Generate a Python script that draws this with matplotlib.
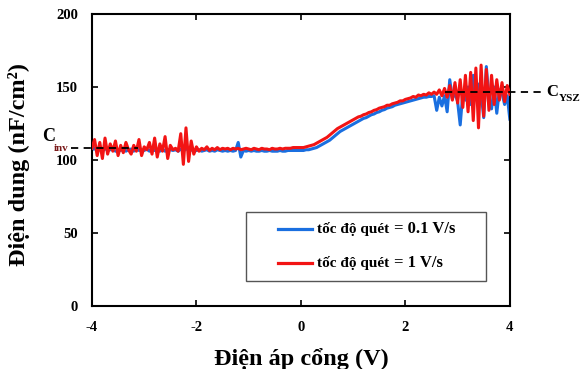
import matplotlib
matplotlib.use("Agg")
import matplotlib.pyplot as plt
from matplotlib.patches import Rectangle

plt.rcParams["font.family"] = ["Liberation Serif", "DejaVu Serif"]
plt.rcParams["font.weight"] = "bold"
plt.rcParams["axes.unicode_minus"] = False

# gate voltage (V), one sample every 0.05 V
voltage = [
    -4.00, -3.95, -3.90, -3.85, -3.80, -3.75, -3.70, -3.65, -3.60, -3.55,
    -3.50, -3.45, -3.40, -3.35, -3.30, -3.25, -3.20, -3.15, -3.10, -3.05,
    -3.00, -2.95, -2.90, -2.85, -2.80, -2.75, -2.70, -2.65, -2.60, -2.55,
    -2.50, -2.45, -2.40, -2.35, -2.30, -2.25, -2.20, -2.15, -2.10, -2.05,
    -2.00, -1.95, -1.90, -1.85, -1.80, -1.75, -1.70, -1.65, -1.60, -1.55,
    -1.50, -1.45, -1.40, -1.35, -1.30, -1.25, -1.20, -1.15, -1.10, -1.05,
    -1.00, -0.95, -0.90, -0.85, -0.80, -0.75, -0.70, -0.65, -0.60, -0.55,
    -0.50, -0.45, -0.40, -0.35, -0.30, -0.25, -0.20, -0.15, -0.10, -0.05,
    0.00, 0.05, 0.10, 0.15, 0.20, 0.25, 0.30, 0.35, 0.40, 0.45,
    0.50, 0.55, 0.60, 0.65, 0.70, 0.75, 0.80, 0.85, 0.90, 0.95,
    1.00, 1.05, 1.10, 1.15, 1.20, 1.25, 1.30, 1.35, 1.40, 1.45,
    1.50, 1.55, 1.60, 1.65, 1.70, 1.75, 1.80, 1.85, 1.90, 1.95,
    2.00, 2.05, 2.10, 2.15, 2.20, 2.25, 2.30, 2.35, 2.40, 2.45,
    2.50, 2.55, 2.60, 2.65, 2.70, 2.75, 2.80, 2.85, 2.90, 2.95,
    3.00, 3.05, 3.10, 3.15, 3.20, 3.25, 3.30, 3.35, 3.40, 3.45,
    3.50, 3.55, 3.60, 3.65, 3.70, 3.75, 3.80, 3.85, 3.90, 3.95,
    4.00,
]

# capacitance (nF/cm2), sweep rate 0.1 V/s
cap_slow = [
    107, 108, 106, 107.5, 106, 108, 106.5, 107, 107.5, 106,
    107, 106.5, 108, 106, 107, 107.5, 106, 108, 106.5, 107,
    106.5, 107.5, 106, 108, 106.5, 107, 106, 107.5, 106, 107,
    107, 106.5, 107, 106, 107.5, 106, 108, 106.5, 107, 106,
    106.5, 107, 106, 106.5, 107, 106, 106.5, 106, 107, 106.5,
    106, 106.5, 106, 106.5, 106, 106.5, 112, 102, 106.5, 106,
    106.5, 106, 106.5, 106, 106, 106.5, 106, 106, 106.5, 106,
    106, 106, 106.5, 106, 106, 106.5, 106.5, 106.5, 106.5, 106.5,
    106.5, 106.5, 107, 107, 107.5, 108, 108.5, 109.5, 110.5, 111.5,
    112.5, 113.5, 115, 116.5, 118, 119.5, 120.5, 121.5, 122.5, 123.5,
    124.5, 125.5, 126.5, 127.5, 128.5, 129, 130, 131, 131.5, 132.5,
    133, 134, 134.5, 135.5, 136, 136.5, 137.5, 138, 138.5, 139,
    139.5, 140, 140.5, 141, 141.5, 142, 142.5, 143, 143, 143.5,
    143.5, 144, 134, 143, 137, 144, 133, 155, 142, 146,
    140, 124, 146, 141, 150, 138, 158, 144, 152, 146,
    129, 164, 142, 135, 150, 132, 148, 146, 138, 144,
    128,
]

# capacitance (nF/cm2), sweep rate 1 V/s
cap_fast = [
    108, 114, 103, 112, 101, 115, 104, 111, 106, 113,
    103, 110, 105, 112, 107, 104, 110, 106, 114, 103,
    109, 107, 112, 104, 115, 102, 111, 106, 116, 101,
    110, 107, 108, 106, 118, 97, 122, 99, 113, 104,
    109, 106, 108, 107, 109, 106.5, 108, 107, 108.5, 107,
    108, 107.5, 108, 107, 108, 107.5, 108, 107, 107.5, 108,
    107.5, 107, 108, 107.5, 107, 108, 107.5, 107.5, 107, 108,
    107.5, 107.5, 108, 107.5, 108, 108, 108, 108.5, 108.5, 108.5,
    108.5, 108.5, 109, 109.5, 110, 110.5, 111.5, 112.5, 113.5, 114.5,
    115.5, 117, 118.5, 120, 121.5, 122.5, 123.5, 124.5, 125.5, 126.5,
    127.5, 128.5, 129.5, 130, 131, 131.5, 132.5, 133, 134, 134.5,
    135.5, 136, 136.5, 137.5, 137.5, 138.5, 139, 139.5, 140.5, 140.5,
    141.5, 142, 142.5, 143.5, 143, 144.5, 144, 145, 144.5, 146,
    145, 146.5, 145, 148, 144, 149, 143, 151, 141, 153,
    139, 155, 136, 158, 133, 160, 127, 163, 122, 165,
    130, 162, 134, 158, 138, 155, 141, 153, 140, 151,
    145,
]

label_name = "tốc độ quét"
label_rates = ["= 0.1 V/s", "= 1 V/s"]
colors = ["#1a6fe0", "#f21414"]
c_inv = 108
c_ysz = 146.5

fig = plt.figure(figsize=(5.82, 3.69), dpi=100)
ax = fig.add_axes([0.158, 0.171, 0.718, 0.791])

ax.plot(voltage, cap_slow, color=colors[0], lw=2.2, zorder=2)
ax.plot(voltage, cap_fast, color=colors[1], lw=2.2, zorder=3)

# reference levels
ax.plot([-4.40, -3.12], [c_inv, c_inv], ls=(0, (4, 3)), color="black",
        lw=1.3, clip_on=False, zorder=5)
ax.plot([2.76, 4.63], [c_ysz, c_ysz], ls=(0, (4, 3)), color="black",
        lw=1.3, clip_on=False, zorder=5)
ax.text(-4.95, c_inv + 2, "C", fontsize=13, ha="left", va="bottom")
ax.text(-4.74, c_inv + 3.2, "inv", fontsize=8, ha="left", va="top",
        color="#7a1a1a")
ax.text(4.70, c_ysz, "C", fontsize=12, ha="left", va="center")
ax.text(4.93, c_ysz - 1.5, "YSZ", fontsize=8, ha="left", va="top")

ax.set_xlim(-4, 4)
ax.set_ylim(0, 200)
ax.set_xticks([-4, -2, 0, 2, 4])
ax.set_yticks([0, 50, 100, 150, 200])
ax.tick_params(direction="in", length=4, width=1.2, top=True, right=True,
               labelsize=10.5)
ax.tick_params(axis="x", pad=11)
ax.tick_params(axis="y", pad=10)
for s in ax.spines.values():
    s.set_linewidth(1.5)

ax.set_xlabel("Điện áp cổng (V)", fontsize=17.5, fontweight="bold")
ax.xaxis.set_label_coords(0.5, -0.143)
ax.set_ylabel("Điện dung (nF/cm²)", fontsize=17.5, fontweight="bold")
ax.yaxis.set_label_coords(-0.148, 0.483)

# legend box drawn by hand
ax.add_patch(Rectangle((0.368, 0.086), 0.575, 0.236, transform=ax.transAxes,
                       facecolor="white", edgecolor="#555555", lw=1.0, zorder=6))
for row_y, c, rate in zip([0.264, 0.147], colors, label_rates):
    ax.plot([0.445, 0.526], [row_y, row_y], color=c, lw=2.3,
            transform=ax.transAxes, zorder=7)
    ax.text(0.538, row_y - 0.015, label_name, fontsize=11,
            transform=ax.transAxes, va="baseline", ha="left", zorder=7)
    ax.text(0.722, row_y - 0.015, rate, fontsize=12,
            transform=ax.transAxes, va="baseline", ha="left", zorder=7)

fig.savefig("out.png", dpi=100)
